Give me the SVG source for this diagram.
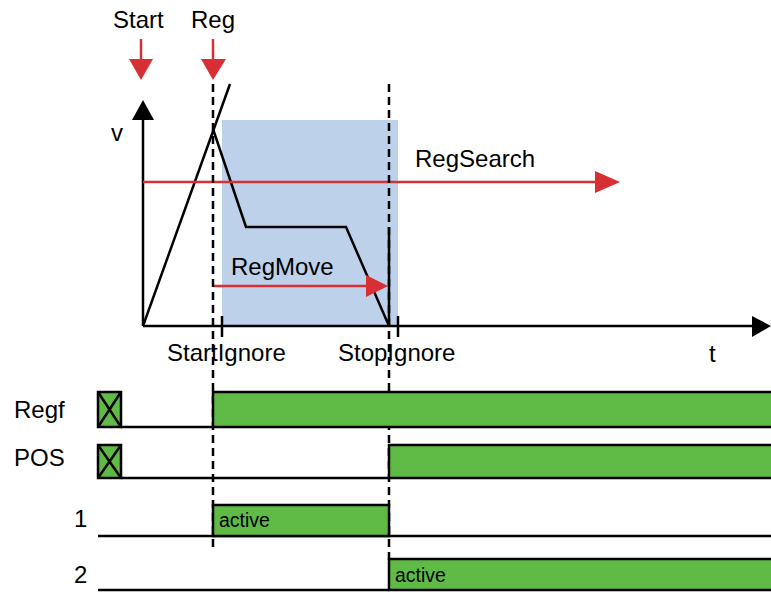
<svg xmlns="http://www.w3.org/2000/svg" width="771" height="592" viewBox="0 0 771 592">
<style>
text{font-family:"Liberation Sans",Arial,sans-serif;fill:#000}
.lbl{font-size:24px}
.sm{font-size:19.5px}
.blk{stroke:#000;stroke-width:2.5;fill:none}
.dash{stroke:#000;stroke-width:2.5;stroke-dasharray:8 5;fill:none}
.red{stroke:#D72F33;stroke-width:2.5;fill:none}
.grn{fill:#5FBB46;stroke:#000;stroke-width:2.5}
</style>
<rect width="771" height="592" fill="#fff"/>
<g id="bluearea"><rect x="222" y="120" width="176" height="206" fill="#BDD1EA"/></g>
<g id="labels">
<text class="lbl" x="113" y="28">Start</text>
<text class="lbl" x="191" y="28">Reg</text>
<text class="lbl" x="111" y="141">v</text>
<text class="lbl" x="415" y="167">RegSearch</text>
<text class="lbl" x="231" y="275">RegMove</text>
<text class="lbl" x="167" y="361">StartIgnore</text>
<text class="lbl" x="338" y="361">StopIgnore</text>
<text class="lbl" x="709" y="362">t</text>
<text class="lbl" x="14" y="418">Regf</text>
<text class="lbl" x="14" y="466">POS</text>
<text class="lbl" x="74" y="527">1</text>
<text class="lbl" x="74" y="583">2</text>
</g>
<g id="axes">
<line class="blk" x1="143" y1="326" x2="143" y2="118"/>
<polygon points="143,100 132,120 154,120" fill="#000"/>
<line class="blk" x1="143" y1="326" x2="754" y2="326"/>
<polygon points="771,326 752,316 752,337" fill="#000"/>
<line class="blk" x1="222" y1="316" x2="222" y2="337"/>
<line class="blk" x1="398" y1="316" x2="398" y2="337"/>
</g>
<g id="profile">
<line class="blk" x1="143" y1="326" x2="230" y2="84"/>
<polyline class="blk" points="213,129 246,227 346,227 389,326 389,227"/>
</g>
<g id="connectors">
<line class="red" x1="141" y1="39" x2="141" y2="60"/>
<polygon points="129,59 153,59 141,80" fill="#D72F33"/>
<line class="red" x1="213" y1="39" x2="213" y2="60"/>
<polygon points="201,59 226,59 213,80" fill="#D72F33"/>
<line class="red" x1="143" y1="182" x2="597" y2="182"/>
<polygon points="595,171 595,193 620,182" fill="#D72F33"/>
<line class="red" x1="213" y1="286" x2="368" y2="286"/>
<polygon points="366,275 366,297 388,286" fill="#D72F33"/>
<line class="dash" x1="213" y1="84" x2="213" y2="550"/>
<line class="dash" x1="389" y1="84" x2="389" y2="560"/>
</g>
<g id="row-regf">
<rect class="grn" x="98" y="392" width="23" height="35"/>
<path class="blk" d="M98,392 L121,427 M121,392 L98,427"/>
<line class="blk" x1="121" y1="427" x2="213" y2="427"/>
<rect class="grn" x="213" y="392" width="560" height="35"/>
</g>
<g id="row-pos">
<rect class="grn" x="98" y="445" width="23" height="33"/>
<path class="blk" d="M98,445 L121,478 M121,445 L98,478"/>
<line class="blk" x1="121" y1="478" x2="389" y2="478"/>
<rect class="grn" x="389" y="445" width="384" height="33"/>
</g>
<g id="row-1">
<line class="blk" x1="98" y1="536" x2="771" y2="536"/>
<rect class="grn" x="213" y="505" width="176" height="31"/>
<text class="sm" x="219" y="527">active</text>
</g>
<g id="row-2">
<line class="blk" x1="98" y1="590" x2="389" y2="590"/>
<rect class="grn" x="389" y="559" width="384" height="31"/>
<text class="sm" x="395" y="582">active</text>
</g>
</svg>
